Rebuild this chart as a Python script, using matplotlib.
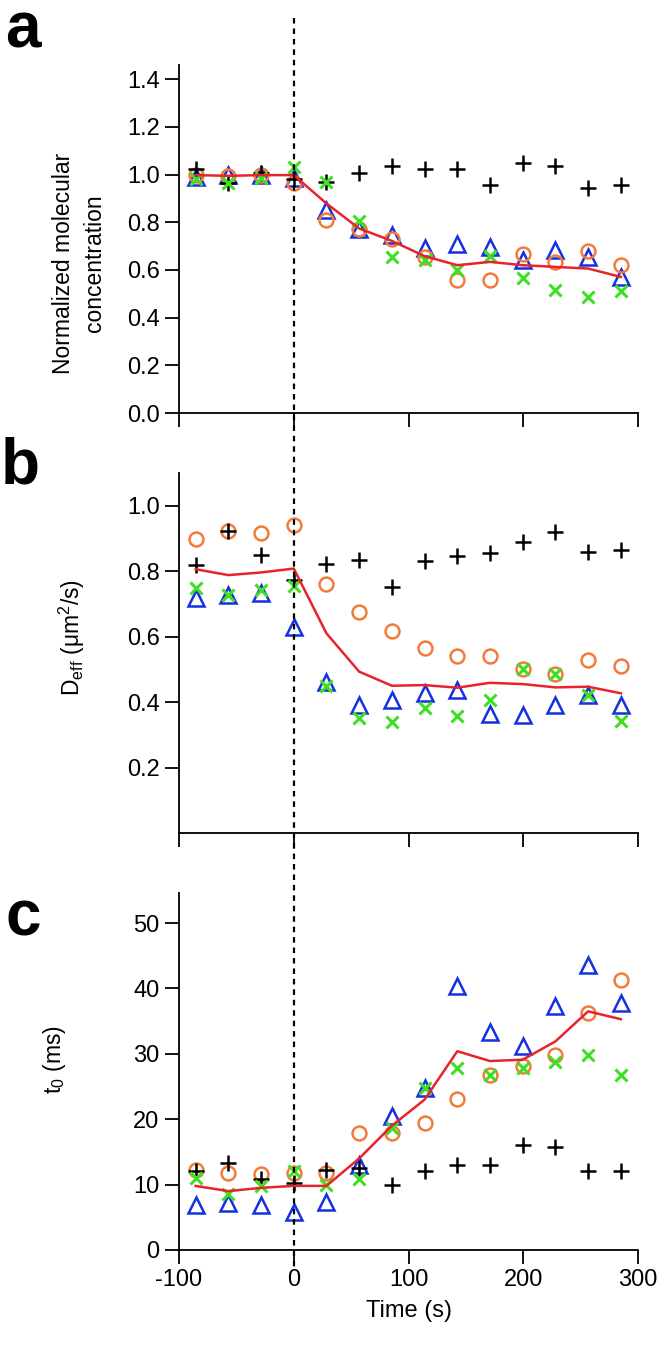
import matplotlib
matplotlib.use('Agg')
import matplotlib.pyplot as plt
import matplotlib.transforms as mtransforms
from matplotlib.lines import Line2D

plt.rcParams['font.family'] = ['Liberation Sans', 'DejaVu Sans']
plt.rcParams['mathtext.fontset'] = 'custom'
plt.rcParams['mathtext.rm'] = 'Liberation Sans'
plt.rcParams['mathtext.it'] = 'Liberation Sans:italic'

# time points (s)
time = [-85.5, -57, -28.5, 0, 28.5, 57, 85.5, 114, 142.5, 171, 199.5, 228, 256.5, 285]

# a: normalized molecular concentration
conc_plus = [1.025, 0.965, 1.005, 0.98, 0.967, 1.007, 1.037, 1.025, 1.025, 0.956, 1.049, 1.035, 0.944, 0.956]
conc_tri = [0.99, 1.0, 1.0, 0.985, 0.851, 0.774, 0.746, 0.694, 0.711, 0.697, 0.641, 0.683, 0.655, 0.571]
conc_circ = [1.0, 0.995, 1.0, 0.963, 0.809, 0.770, 0.732, 0.655, 0.560, 0.560, 0.669, 0.634, 0.679, 0.620]
conc_x = [0.98, 0.965, 0.985, 1.032, 0.97, 0.806, 0.655, 0.641, 0.602, 0.658, 0.565, 0.518, 0.488, 0.513]
conc_mean = [0.998, 0.995, 0.998, 0.998, 0.879, 0.774, 0.722, 0.658, 0.620, 0.634, 0.620, 0.613, 0.606, 0.571]

# b: D_eff (um^2/s)
deff_plus = [0.820, 0.923, 0.849, 0.773, 0.823, 0.834, 0.752, 0.830, 0.847, 0.856, 0.889, 0.920, 0.859, 0.866]
deff_tri = [0.717, 0.727, 0.734, 0.628, 0.462, 0.391, 0.406, 0.428, 0.437, 0.363, 0.360, 0.391, 0.421, 0.391]
deff_circ = [0.897, 0.923, 0.918, 0.940, 0.762, 0.676, 0.618, 0.566, 0.541, 0.541, 0.500, 0.486, 0.528, 0.511]
deff_x = [0.750, 0.727, 0.742, 0.754, 0.449, 0.350, 0.340, 0.381, 0.357, 0.406, 0.500, 0.486, 0.421, 0.343]
deff_mean = [0.806, 0.788, 0.796, 0.808, 0.610, 0.493, 0.450, 0.452, 0.444, 0.459, 0.455, 0.445, 0.447, 0.427]

# c: t0 (ms)
t0_plus = [12.0, 13.3, 10.8, 10.3, 12.3, 12.5, 10.0, 12.0, 13.0, 13.0, 16.0, 15.8, 12.0, 12.0]
t0_tri = [6.8, 7.2, 6.8, 5.8, 7.3, 13.0, 20.5, 24.8, 40.3, 33.4, 31.2, 37.3, 43.6, 37.8]
t0_circ = [12.2, 11.8, 11.6, 11.8, 11.8, 17.9, 17.9, 19.4, 23.1, 26.8, 28.1, 29.8, 36.2, 41.3]
t0_x = [11.0, 8.5, 9.8, 12.0, 10.0, 10.9, 18.7, 24.8, 27.8, 26.8, 27.8, 28.8, 29.8, 26.8]
t0_mean = [9.8, 9.0, 9.5, 9.8, 9.8, 14.0, 19.0, 23.0, 30.4, 28.9, 29.1, 31.9, 36.5, 35.3]

fig = plt.figure(figsize=(6.66, 13.51), dpi=100)

ax_a = fig.add_axes([0.2688, 0.6943, 0.6892, 0.2576])
ax_b = fig.add_axes([0.2688, 0.3834, 0.6892, 0.2665])
ax_c = fig.add_axes([0.2688, 0.0748, 0.6892, 0.2642])

panels = [
    (ax_a, conc_tri, conc_circ, conc_plus, conc_x, conc_mean),
    (ax_b, deff_tri, deff_circ, deff_plus, deff_x, deff_mean),
    (ax_c, t0_tri, t0_circ, t0_plus, t0_x, t0_mean),
]

for ax, tri, circ, plus, xs, mean in panels:
    ax.plot(time, tri, ls='none', marker='^', ms=11, mfc='none', mec='#1530e0', mew=1.8)
    ax.plot(time, circ, ls='none', marker='o', ms=10, mfc='none', mec='#f27b3c', mew=1.8)
    ax.plot(time, plus, ls='none', marker='+', ms=12, mec='black', mew=1.8)
    ax.plot(time, xs, ls='none', marker='x', ms=9, mec='#3fe024', mew=2.2)
    ax.plot(time, mean, c='#e8232b', lw=1.8)
    ax.set_xlim(-100, 300)
    ax.set_xticks([-100, 0, 100, 200, 300])
    ax.spines['top'].set_visible(False)
    ax.spines['right'].set_visible(False)
    ax.spines['left'].set_linewidth(1.3)
    ax.spines['bottom'].set_linewidth(1.3)
    ax.tick_params('both', direction='out', length=10, width=1.3, labelsize=17, pad=4)

ax_a.set_ylim(0, 1.46)
ax_a.set_yticks([0, 0.2, 0.4, 0.6, 0.8, 1.0, 1.2, 1.4])
ax_a.set_yticklabels(['0.0', '0.2', '0.4', '0.6', '0.8', '1.0', '1.2', '1.4'])
ax_a.tick_params('x', labelbottom=False)

ax_b.set_ylim(0, 1.1)
ax_b.set_yticks([0.2, 0.4, 0.6, 0.8, 1.0])
ax_b.set_yticklabels(['0.2', '0.4', '0.6', '0.8', '1.0'])
ax_b.tick_params('x', labelbottom=False)

ax_c.set_ylim(0, 54.6)
ax_c.set_yticks([0, 10, 20, 30, 40, 50])
ax_c.set_xticklabels(['-100', '0', '100', '200', '300'])
ax_c.set_xlabel('Time (s)', fontsize=17, labelpad=6)

# y labels placed in figure pixels
W, H = 666, 1351
fig.text(79 / W, 1 - 263 / H, 'Normalized molecular\nconcentration', rotation=90,
         ha='center', va='center', fontsize=16.5, linespacing=1.5)
fig.text(72 / W, 1 - 637 / H, r'D$_{\mathrm{eff}}$ ($\mathrm{\mu}$m$^{2}$/s)', rotation=90,
         ha='center', va='center', fontsize=16.5)
fig.text(55 / W, 1 - 1060 / H, r't$_{0}$ (ms)', rotation=90,
         ha='center', va='center', fontsize=16.5)

# panel letters
fig.text(5 / W, 1 - 47 / H, 'a', fontsize=46, fontweight='bold', va='baseline')
fig.text(1 / W, 1 - 484 / H, 'b', fontsize=46, fontweight='bold', va='baseline')
fig.text(5 / W, 1 - 935 / H, 'c', fontsize=46, fontweight='bold', va='baseline')

# dotted line at t = 0 running through all panels
trans = mtransforms.blended_transform_factory(ax_c.transData, fig.transFigure)
fig.add_artist(Line2D([0, 0], [1 - 18 / H, 1 - 1268 / H], transform=trans,
                      color='black', lw=1.6, dashes=(2.5, 2.2)))

fig.savefig('out.png', dpi=100)
